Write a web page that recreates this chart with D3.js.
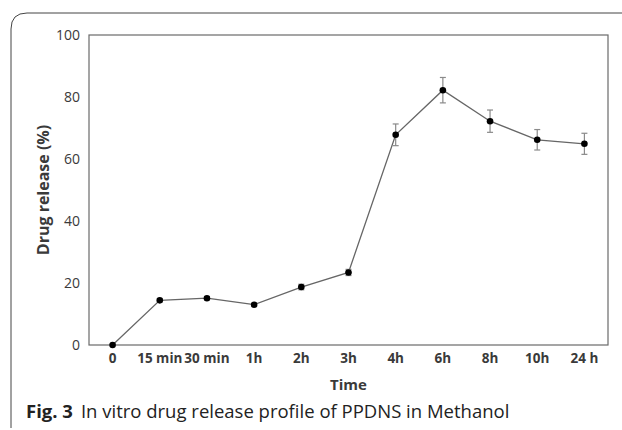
<!DOCTYPE html>
<html>
<head>
<meta charset="utf-8">
<script src="https://cdn.jsdelivr.net/npm/d3@7"></script>
<style>
  body { margin: 0; background: #fff; }
  svg { display: block; font-family: "Open Sans", sans-serif; }
</style>
</head>
<body>
<svg id="chart" width="622" height="430"></svg>
<script>
// data
const timeLabels = ["0", "15 min", "30 min", "1h", "2h", "3h", "4h", "6h", "8h", "10h", "24 h"];
const release = [0, 14.4, 15.1, 13.0, 18.7, 23.4, 67.8, 82.2, 72.2, 66.2, 64.9];
const releaseErr = [0, 0.5, 0.5, 0.4, 0.9, 1.0, 3.5, 4.1, 3.6, 3.3, 3.4];
const yTicks = [0, 20, 40, 60, 80, 100];

const svg = d3.select("#chart");

// card border with rounded top-left corner
svg.append("path")
  .attr("d", "M11,428 L11,29 Q11,13 27,13 L622,13")
  .attr("fill", "none")
  .attr("stroke", "#444")
  .attr("stroke-width", 1);

const margin = {left: 89, top: 35, right: 14, bottom: 85};
const width = 622 - margin.left - margin.right;
const height = 430 - margin.top - margin.bottom;

const g = svg.append("g")
  .attr("transform", `translate(${margin.left},${margin.top})`);

const x = d3.scaleBand()
  .domain(timeLabels)
  .range([0, width]);

const y = d3.scaleLinear()
  .domain([0, 100])
  .range([height, 0]);

// plot frame
g.append("rect")
  .attr("width", width)
  .attr("height", height)
  .attr("fill", "none")
  .attr("stroke", "#6a6a6a")
  .attr("stroke-width", 1.2);

// y axis (labels only)
const yAxis = g.append("g")
  .call(d3.axisLeft(y).tickValues(yTicks).tickSize(0).tickPadding(9));
yAxis.select(".domain").remove();
yAxis.selectAll("text")
  .style("font-size", "14px")
  .style("font-family", "'Open Sans', sans-serif")
  .attr("fill", "#3a3a3a");

// x axis
const xAxis = g.append("g")
  .attr("transform", `translate(0,${height})`)
  .call(d3.axisBottom(x).tickSize(0).tickPadding(8));
xAxis.select(".domain").remove();
xAxis.selectAll("text")
  .style("font-size", "13.5px")
  .style("font-weight", "bold")
  .style("font-family", "'Open Sans', sans-serif")
  .attr("fill", "#3a3a3a");

const cx = (d, i) => x(timeLabels[i]) + x.bandwidth() / 2;

// line
const line = d3.line()
  .x((d, i) => cx(d, i))
  .y(d => y(d));

g.append("path")
  .datum(release)
  .attr("d", line)
  .attr("fill", "none")
  .attr("stroke", "#666")
  .attr("stroke-width", 1.3);

// error bars
release.forEach((d, i) => {
  if (releaseErr[i] <= 0) return;
  const eg = g.append("g").attr("stroke", "#8a8a8a").attr("stroke-width", 1.2);
  const px = cx(d, i);
  const yt = y(d + releaseErr[i]);
  const yb = y(d - releaseErr[i]);
  eg.append("line").attr("x1", px).attr("x2", px).attr("y1", yt).attr("y2", yb);
  eg.append("line").attr("x1", px - 3).attr("x2", px + 3).attr("y1", yt).attr("y2", yt);
  eg.append("line").attr("x1", px - 3).attr("x2", px + 3).attr("y1", yb).attr("y2", yb);
});

// markers
g.selectAll("circle")
  .data(release)
  .enter()
  .append("circle")
  .attr("cx", (d, i) => cx(d, i))
  .attr("cy", d => y(d))
  .attr("r", 3.3)
  .attr("fill", "black");

// axis titles
g.append("text")
  .attr("x", width / 2)
  .attr("y", height + 45)
  .attr("text-anchor", "middle")
  .style("font-size", "15px")
  .style("font-weight", "bold")
  .attr("fill", "#3a3a3a")
  .text("Time");

g.append("text")
  .attr("transform", `translate(-40,${height / 2}) rotate(-90)`)
  .attr("text-anchor", "middle")
  .style("font-size", "16px")
  .style("font-weight", "bold")
  .attr("fill", "#3a3a3a")
  .text("Drug release (%)");

// caption
const cap = svg.append("text")
  .attr("x", 26)
  .attr("y", 418)
  .style("font-size", "18.5px")
  .attr("fill", "#222");
cap.append("tspan").style("font-weight", "bold").text("Fig. 3");
cap.append("tspan").attr("dx", 8).text("In vitro drug release profile of PPDNS in Methanol");
</script>
</body>
</html>
